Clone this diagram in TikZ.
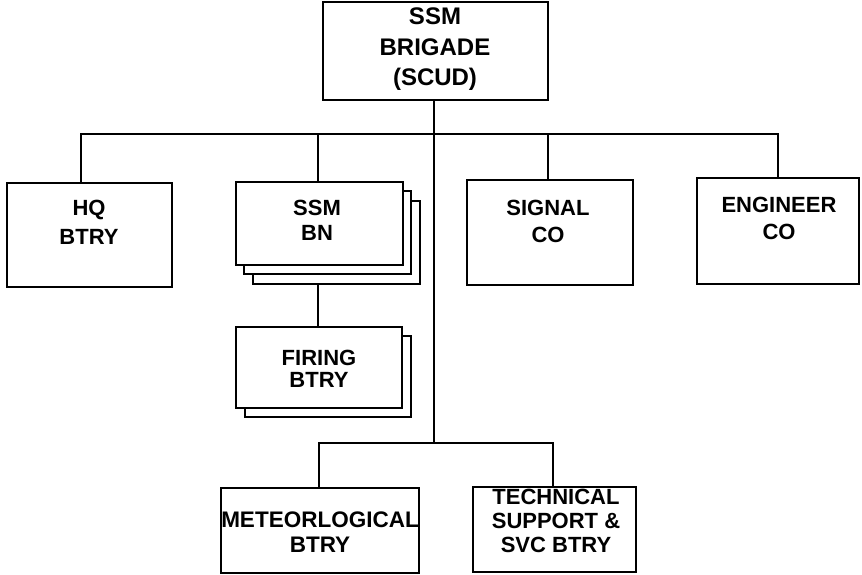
\documentclass[tikz,border=0pt]{standalone}
\usepackage{fontspec}
\setmainfont{Liberation Sans}
\begin{document}
\begin{tikzpicture}[x=1pt,y=-1pt,
  box/.style={draw=black, line width=2pt, fill=white, inner sep=0pt},
  lbl/.style={font=\bfseries\fontsize{22}{#1}\selectfont, align=center, inner sep=0pt, text depth=0pt},
  lbl/.default=26,
  wire/.style={line width=2pt}]
\useasboundingbox (0,0) rectangle (862,575);

% boxes
\node[box, minimum width=225pt, minimum height=98pt] (top) at (435.5,51) {};
\node[box, minimum width=165pt, minimum height=104pt] (hq) at (89.5,235) {};
\node[box, minimum width=167pt, minimum height=83pt] (bn3) at (336.5,242.5) {};
\node[box, minimum width=167pt, minimum height=83pt] (bn2) at (327.5,232.5) {};
\node[box, minimum width=167pt, minimum height=83pt] (bn) at (319.5,223.5) {};
\node[box, minimum width=166pt, minimum height=81pt] (fir2) at (328,376.5) {};
\node[box, minimum width=166pt, minimum height=81pt] (fir) at (319,367.5) {};
\node[box, minimum width=166pt, minimum height=105pt] (sig) at (550,232.5) {};
\node[box, minimum width=162pt, minimum height=106pt] (eng) at (778,231) {};
\node[box, minimum width=198pt, minimum height=85pt] (met) at (320,530.5) {};
\node[box, minimum width=163pt, minimum height=85pt] (tech) at (554.5,529.5) {};

% junctions
\coordinate (hub) at (434,134);
\coordinate (hub2) at (434,443);
\coordinate (jhq) at (81,134);
\coordinate (jbn) at (318,134);
\coordinate (jsig) at (548,134);
\coordinate (jeng) at (778,134);
\coordinate (jmet) at (319,443);
\coordinate (jtech) at (553,443);

% connectors
\draw[wire] (top.south -| hub) -- (hub2);
\draw[wire] (jhq |- hq.north) -- (jhq) -- (jeng) -- (jeng |- eng.north);
\draw[wire] (jbn) -- (jbn |- bn.north);
\draw[wire] (jsig) -- (jsig |- sig.north);
\draw[wire] (bn3.south -| jbn) -- (jbn |- fir.north);
\draw[wire] (jmet |- met.north) -- (jmet) -- (jtech) -- (jtech |- tech.north);

% labels
\node[lbl, font=\bfseries\fontsize{24}{30.5}\selectfont] (topt) at (435,47) {SSM\\BRIGADE\\(SCUD)};
\node[lbl=29] (hqt) at (89,222.5) {HQ\\BTRY};
\node[lbl=25] (bnt) at (317,220.5) {SSM\\BN};
\node[lbl=22] (firt) at (319,369) {FIRING\\BTRY};
\node[lbl=27] (sigt) at (548,221.5) {SIGNAL\\CO};
\node[lbl=27] (engt) at (779,218.5) {ENGINEER\\CO};
\node[lbl=25, font=\bfseries\fontsize{22.5}{25}\selectfont] (mett) at (320,532.5) {METEORLOGICAL\\BTRY};
\node[lbl=24] (techt) at (556,521) {TECHNICAL\\SUPPORT \&\\SVC BTRY};
\end{tikzpicture}
\end{document}
